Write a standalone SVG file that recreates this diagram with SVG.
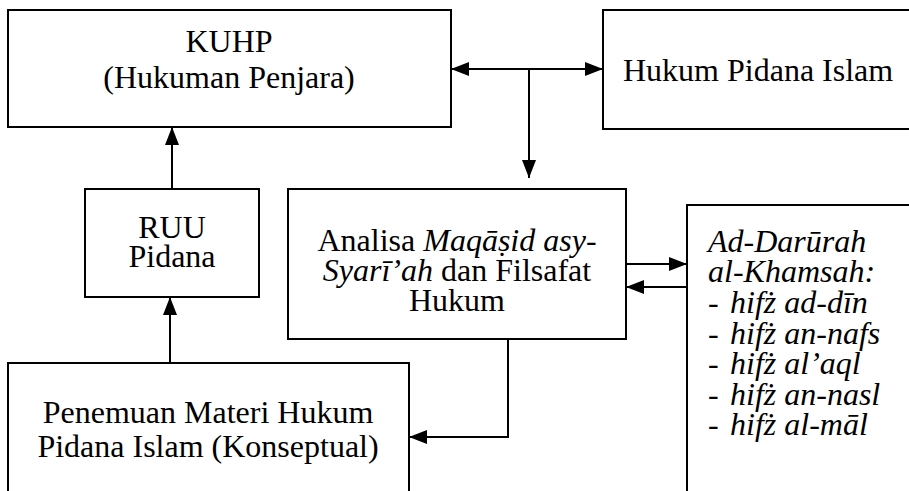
<svg xmlns="http://www.w3.org/2000/svg" width="909" height="491" viewBox="0 0 909 491">
<defs>
<marker id="ah" markerUnits="userSpaceOnUse" markerWidth="20" markerHeight="16" refX="18" refY="7" orient="auto-start-reverse">
<path d="M0,0 L18,7 L0,14 Z" fill="#000"/>
</marker>
</defs>
<style>
.box{fill:#fff;stroke:#000;stroke-width:2}
.t{font-family:"Liberation Serif","Times New Roman",serif;font-size:32px;fill:#000}
.c{text-anchor:middle}
.i{font-style:italic}
.ln{fill:none;stroke:#000;stroke-width:2}
</style>
<rect width="909" height="491" fill="#fff"/>
<g id="kuhp">
<rect class="box" x="8" y="10" width="443" height="117"/>
<text class="t c" x="229" y="52">KUHP</text>
<text class="t c" x="229" y="88">(Hukuman Penjara)</text>
</g>
<g id="hpi">
<rect class="box" x="603" y="10" width="320" height="119"/>
<text class="t" x="623" y="81">Hukum Pidana Islam</text>
</g>
<g id="ruu">
<rect class="box" x="85" y="189" width="174" height="108"/>
<text class="t c" x="172" y="238">RUU</text>
<text class="t c" x="172" y="267">Pidana</text>
</g>
<g id="analisa">
<rect class="box" x="288" y="189" width="338" height="150"/>
<text class="t c" x="457" y="251">Analisa <tspan class="i">Maqāṣid asy-</tspan></text>
<text class="t c" x="457" y="281"><tspan class="i">Syarī’ah</tspan> dan Filsafat</text>
<text class="t c" x="457" y="311">Hukum</text>
</g>
<g id="darurah">
<rect class="box" x="687" y="205" width="240" height="300"/>
<text class="t i" x="708" y="252">Ad-Darūrah</text>
<text class="t i" x="708" y="282">al-Khamsah:</text>
<text class="t" x="708" y="313">-</text><text class="t i" x="730" y="313">hifż ad-dīn</text>
<text class="t" x="708" y="344">-</text><text class="t i" x="730" y="344">hifż an-nafs</text>
<text class="t" x="708" y="374">-</text><text class="t i" x="730" y="374">hifż al’aql</text>
<text class="t" x="708" y="405">-</text><text class="t i" x="730" y="405">hifż an-nasl</text>
<text class="t" x="708" y="435">-</text><text class="t i" x="730" y="435">hifż al-māl</text>
</g>
<g id="penemuan">
<rect class="box" x="8" y="363" width="401" height="150"/>
<text class="t c" x="208" y="423">Penemuan Materi Hukum</text>
<text class="t c" x="208" y="457">Pidana Islam (Konseptual)</text>
</g>
<g id="connectors">
<line class="ln" x1="451" y1="69" x2="603" y2="69" marker-start="url(#ah)" marker-end="url(#ah)"/>
<line class="ln" x1="529" y1="69" x2="529" y2="178" marker-end="url(#ah)"/>
<line class="ln" x1="172" y1="189" x2="172" y2="127" marker-end="url(#ah)"/>
<line class="ln" x1="170" y1="363" x2="170" y2="297" marker-end="url(#ah)"/>
<line class="ln" x1="626" y1="264" x2="687" y2="264" marker-end="url(#ah)"/>
<line class="ln" x1="687" y1="287" x2="626" y2="287" marker-end="url(#ah)"/>
<polyline class="ln" points="508,339 508,437 409,437" marker-end="url(#ah)"/>
</g>
</svg>
